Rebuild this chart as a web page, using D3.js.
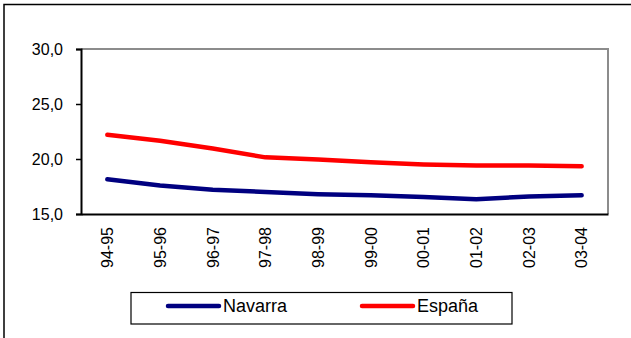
<!DOCTYPE html>
<html>
<head>
<meta charset="utf-8">
<script src="https://cdn.jsdelivr.net/npm/d3@7"></script>
<style>
body { margin: 0; background: #fff; }
text { font-family: "Liberation Sans", Arial, sans-serif; fill: #000; }
</style>
</head>
<body>
<svg id="chart" width="631" height="338"></svg>
<script>
// temporadas
var categories = ["94-95", "95-96", "96-97", "97-98", "98-99", "99-00", "00-01", "01-02", "02-03", "03-04"];
var navarra = [18.15, 17.6, 17.2, 17.0, 16.8, 16.7, 16.55, 16.35, 16.6, 16.7];
var espana = [22.2, 21.65, 20.95, 20.15, 19.95, 19.7, 19.5, 19.4, 19.4, 19.35];
var yTicks = [15, 20, 25, 30];

var series = [
  {name: "Navarra", values: navarra, color: "#000080"},
  {name: "España", values: espana, color: "#ff0000"}
];

var svg = d3.select("#chart");

// outer frame (only left and top visible)
svg.append("rect")
    .attr("x", 4).attr("y", 4.5)
    .attr("width", 640).attr("height", 350)
    .attr("fill", "none")
    .attr("stroke", "#000")
    .attr("stroke-width", 1.5);

var margin = {top: 49, left: 81, right: 608, bottom: 214};

var x = d3.scaleBand()
    .domain(categories)
    .range([margin.left, margin.right]);

var y = d3.scaleLinear()
    .domain([15, 30])
    .range([margin.bottom, margin.top]);

// plot border: gray top/right
svg.append("path")
    .attr("d", "M" + margin.left + "," + margin.top + "H" + margin.right + "V" + margin.bottom)
    .attr("fill", "none")
    .attr("stroke", "#8c8c8c")
    .attr("stroke-width", 2);

// y axis
var yAxis = svg.append("g")
    .attr("transform", "translate(" + margin.left + ",0)")
    .call(d3.axisLeft(y).tickValues(yTicks).tickSize(5).tickPadding(13)
      .tickFormat(function(d) { return d3.format(".1f")(d).replace(".", ","); }));
yAxis.select(".domain").attr("stroke", "#000").attr("stroke-width", 2);
yAxis.selectAll(".tick line").attr("stroke", "#000").attr("stroke-width", 1.5);
yAxis.selectAll("text").style("font-size", "16px").attr("dy", "0.36em");

// x axis
var xAxis = svg.append("g")
    .attr("transform", "translate(0," + margin.bottom + ")")
    .call(d3.axisBottom(x).tickSize(0).tickPadding(0));
xAxis.select(".domain").attr("stroke", "#000").attr("stroke-width", 2);
xAxis.selectAll("text")
    .style("font-size", "16px")
    .attr("text-anchor", "end")
    .attr("transform", "rotate(-90)")
    .attr("x", -13)
    .attr("y", 0)
    .attr("dy", "0.36em");

// lines
var line = d3.line()
    .x(function(d, i) { return x(categories[i]) + x.bandwidth() / 2; })
    .y(function(d) { return y(d); });

svg.selectAll(".serie")
    .data(series)
    .enter().append("path")
    .attr("class", "serie")
    .attr("d", function(d) { return line(d.values); })
    .attr("fill", "none")
    .attr("stroke", function(d) { return d.color; })
    .attr("stroke-width", 4.5)
    .attr("stroke-linecap", "round")
    .attr("stroke-linejoin", "round");

// legend
svg.append("rect")
    .attr("x", 131).attr("y", 292.5)
    .attr("width", 381).attr("height", 31.5)
    .attr("fill", "none")
    .attr("stroke", "#000")
    .attr("stroke-width", 1.2);

var legendX = [168, 362];
var lg = svg.selectAll(".leg")
    .data(series)
    .enter().append("g")
    .attr("class", "leg")
    .attr("transform", function(d, i) { return "translate(" + legendX[i] + ",306)"; });

lg.append("line")
    .attr("x1", 0).attr("x2", 51)
    .attr("stroke", function(d) { return d.color; })
    .attr("stroke-width", 4.5)
    .attr("stroke-linecap", "round");

lg.append("text")
    .attr("x", 55)
    .attr("dy", "0.36em")
    .style("font-size", "18px")
    .text(function(d) { return d.name; });
</script>
</body>
</html>
